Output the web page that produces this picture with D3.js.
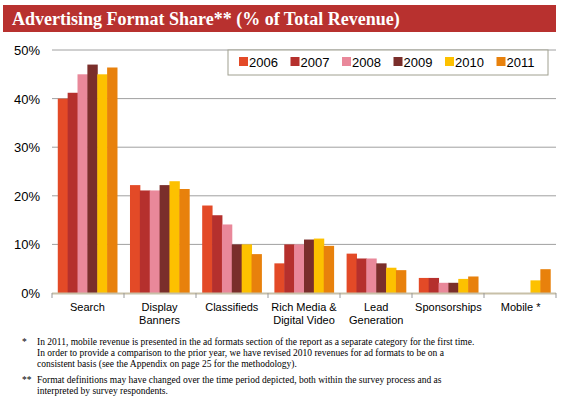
<!DOCTYPE html><html><head><script src="https://cdn.jsdelivr.net/npm/d3@7"></script>
<style>body{margin:0;background:#fff;font-family:Arial,"Liberation Sans",sans-serif}</style></head><body>
<svg id="c" width="561" height="407"></svg>
<script>
const categories=[["Search"],["Display","Banners"],["Classifieds"],["Rich Media &","Digital Video"],["Lead","Generation"],["Sponsorships"],["Mobile *"]];
const years=["2006","2007","2008","2009","2010","2011"];
const s2006=[40,22.2,18,6.1,8.1,3.1,null];
const s2007=[41.2,21.1,16,10,7.1,3.1,null];
const s2008=[45,21.1,14.1,10,7.1,2.1,null];
const s2009=[47,22.2,10,11,6.1,2.1,null];
const s2010=[45,23,10,11.2,5.2,2.9,2.6];
const s2011=[46.4,21.4,8,9.7,4.7,3.4,4.9];
const series=[s2006,s2007,s2008,s2009,s2010,s2011];
const colors=["#e34a27","#b5302d","#e9889a","#7a2e2b","#fdc100","#e8810c"];
const yTicks=[0,10,20,30,40,50];
const serif="'Liberation Serif','Times New Roman',serif";
const svg=d3.select("#c");
svg.append("rect").attr("x",3).attr("y",5).attr("width",553).attr("height",27).attr("fill","#b8312f");
svg.append("text").attr("x",12).attr("y",25).attr("fill","#fff").attr("font-family",serif).attr("font-weight","bold").attr("font-size",18).text("Advertising Format Share** (% of Total Revenue)");
const x=d3.scaleBand().domain(d3.range(categories.length)).range([52,556]).paddingInner(0.18).paddingOuter(0.08);
const y=d3.scaleLinear().domain([0,50]).range([293,50]);
const xs=d3.scaleBand().domain(years).range([0,x.bandwidth()]);
svg.selectAll(".g").data(yTicks.slice(1)).enter().append("line").attr("x1",52).attr("x2",556).attr("y1",d=>y(d)).attr("y2",d=>y(d)).attr("stroke","#a0a0a0");
svg.selectAll(".yl").data(yTicks).enter().append("text").attr("x",40).attr("y",d=>y(d)+5).attr("text-anchor","end").attr("font-size",13).text(d=>d+"%");
series.forEach((s,i)=>{svg.selectAll(null).data(s.map((v,j)=>({v,j}))).enter().filter(d=>d.v!=null).append("rect")
 .attr("x",d=>x(d.j)+xs(years[i])).attr("width",xs.bandwidth()+0.5).attr("y",d=>y(d.v)).attr("height",d=>y(0)-y(d.v)).attr("fill",colors[i]);});
svg.append("line").attr("x1",52).attr("x2",556).attr("y1",293.5).attr("y2",293.5).attr("stroke","#c8c0a8").attr("stroke-width",2);
d3.range(categories.length+1).forEach(k=>{const xx=52+k*504/categories.length;svg.append("line").attr("x1",xx).attr("x2",xx).attr("y1",293).attr("y2",298).attr("stroke","#999");});
categories.forEach((c,j)=>{const t=svg.append("text").attr("x",x(j)+x.bandwidth()/2).attr("y",311).attr("text-anchor","middle").attr("font-size",11);
 c.forEach((l,k)=>t.append("tspan").attr("x",x(j)+x.bandwidth()/2).attr("dy",k?13:0).text(l));});
const lg=svg.append("g");
lg.append("rect").attr("x",228).attr("y",50).attr("width",320).attr("height",25).attr("fill","#fff").attr("stroke","#a0a090");
years.forEach((yr,i)=>{const lx=239+i*51.5;lg.append("rect").attr("x",lx).attr("y",57).attr("width",9).attr("height",9).attr("fill",colors[i]);
 lg.append("text").attr("x",lx+10).attr("y",67).attr("font-size",13).text(yr);});
const notes=[["*","In 2011, mobile revenue is presented in the ad formats section of the report as a separate category for the first time.",345],
["","In order to provide a comparison to the prior year, we have revised 2010 revenues for ad formats to be on a",356],
["","consistent basis (see the Appendix on page 25 for the methodology).",367],
["**","Format definitions may have changed over the time period depicted, both within the survey process and as",383],
["","interpreted by survey respondents.",394]];
notes.forEach(n=>{svg.append("text").attr("x",22).attr("y",n[2]).attr("font-size",9.5).attr("font-family",serif).text(n[0]);
 svg.append("text").attr("x",37).attr("y",n[2]).attr("font-size",9.5).attr("font-family",serif).text(n[1]);});
</script></body></html>
